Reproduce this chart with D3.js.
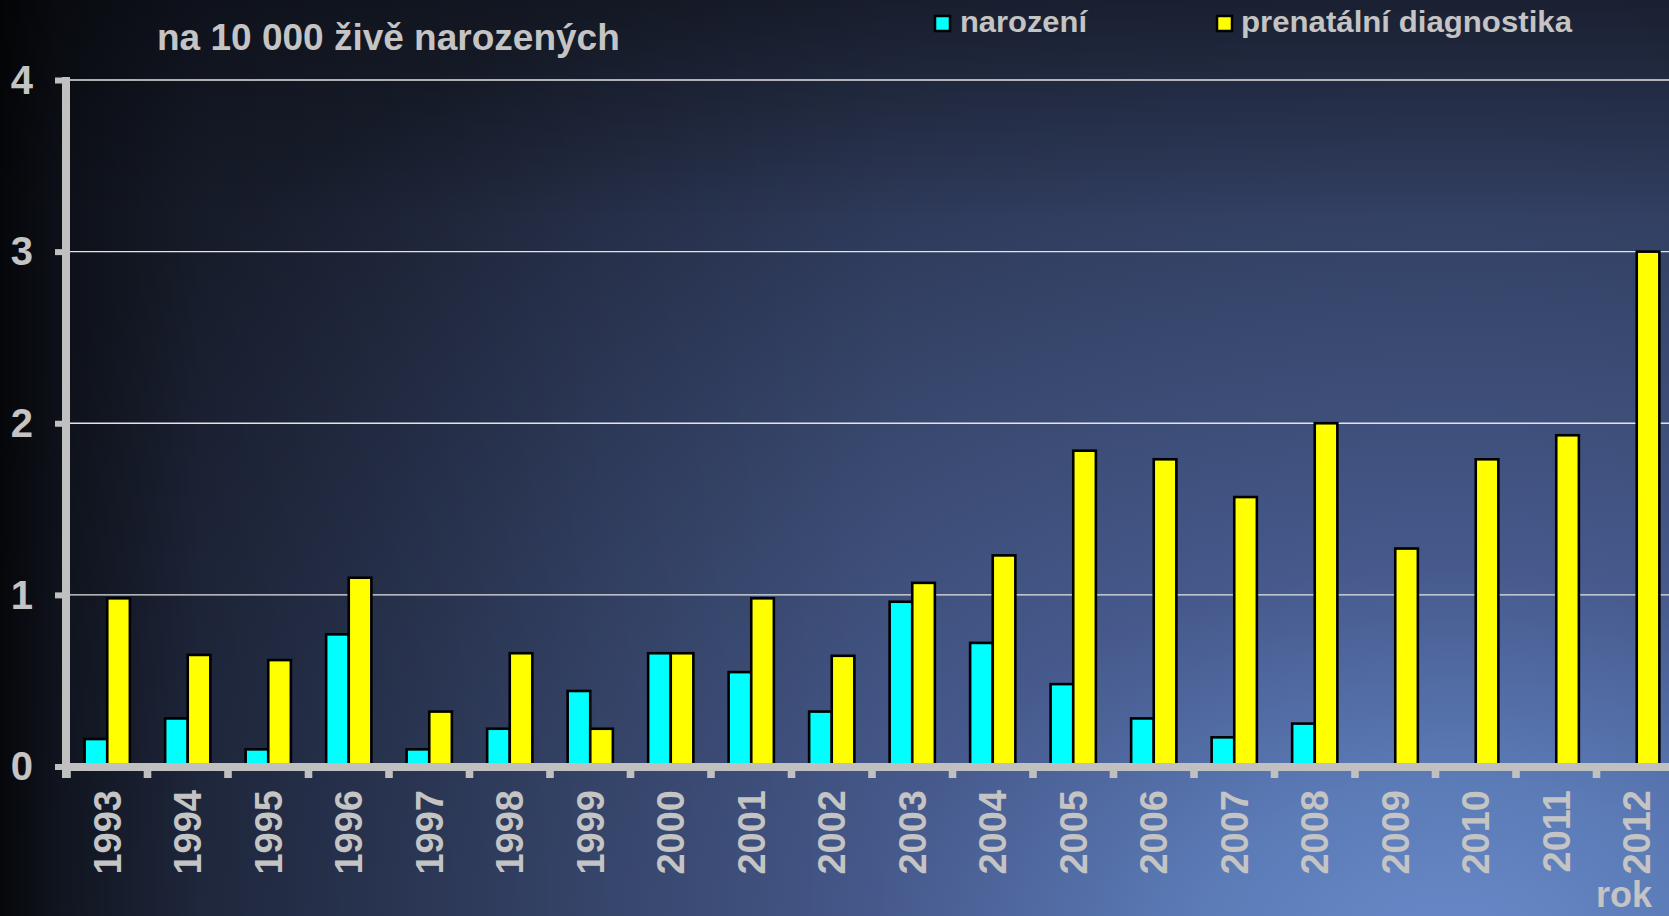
<!DOCTYPE html>
<html>
<head>
<meta charset="utf-8">
<script src="https://cdn.jsdelivr.net/npm/d3@7"></script>
<style>
  html, body { margin: 0; padding: 0; background: #0a0d16; overflow: hidden; }
  svg { display: block; font-family: "Liberation Sans", Arial, sans-serif; }
</style>
</head>
<body>
<svg id="chart" width="1669" height="916"></svg>
<script>
// ---- data ----
const years = ["1993","1994","1995","1996","1997","1998","1999","2000","2001","2002",
               "2003","2004","2005","2006","2007","2008","2009","2010","2011","2012"];
const narozeni = [0.16,0.28,0.10,0.77,0.10,0.22,0.44,0.66,0.55,0.32,
                  0.96,0.72,0.48,0.28,0.17,0.25,null,null,null,null];
const prenatal = [0.98,0.65,0.62,1.10,0.32,0.66,0.22,0.66,0.98,0.645,
                  1.07,1.23,1.84,1.79,1.57,2.00,1.27,1.79,1.93,3.00];
const yTicks = [0,1,2,3,4];
const seriesKeys = ["narozeni","prenatal"];
const seriesNames = ["narození","prenatální diagnostika"];
const seriesColors = ["#00ffff","#ffff00"];
const titleText = "na 10 000 živě narozených";
const xAxisTitle = "rok";

// ---- setup ----
const W = 1669, H = 916;
const svg = d3.select("#chart");
const defs = svg.append("defs");

const rg = defs.append("radialGradient").attr("id","bgR")
  .attr("gradientUnits","userSpaceOnUse")
  .attr("cx",1450).attr("cy",950).attr("r",1100)
  .attr("gradientTransform","translate(1450,950) scale(1.5,1) translate(-1450,-950)");
[[0,"#6888c8"],[0.15,"#5c7cb8"],[0.35,"#46598c"],[0.55,"#3a4a72"],[0.75,"#2e3a5a"],
 [0.9,"#262f48"],[1,"#20283c"]].forEach(([o,c]) =>
  rg.append("stop").attr("offset",o).attr("stop-color",c));

const lg = defs.append("linearGradient").attr("id","bgL")
  .attr("gradientUnits","userSpaceOnUse").attr("x1",0).attr("y1",0).attr("x2",900).attr("y2",0);
[[0,0.85],[0.067,0.6],[0.222,0.32],[0.667,0.1],[1,0]].forEach(([o,a]) =>
  lg.append("stop").attr("offset",o).attr("stop-color","#000").attr("stop-opacity",a));

const tg = defs.append("linearGradient").attr("id","bgT")
  .attr("gradientUnits","userSpaceOnUse").attr("x1",0).attr("y1",0).attr("x2",0).attr("y2",220);
[[0,0.35],[1,0]].forEach(([o,a]) =>
  tg.append("stop").attr("offset",o).attr("stop-color","#000").attr("stop-opacity",a));

svg.append("rect").attr("width",W).attr("height",H).attr("fill","url(#bgR)");
svg.append("rect").attr("width",W).attr("height",H).attr("fill","url(#bgL)");
svg.append("rect").attr("width",W).attr("height",H).attr("fill","url(#bgT)");

// scales
const x0 = d3.scaleBand().domain(years).range([67, 67 + 80.5*years.length]).padding(0);
const x1 = d3.scaleBand().domain(seriesKeys).range([0, x0.bandwidth()])
  .paddingInner(0).paddingOuter(0.78);
const y = d3.scaleLinear().domain([0,4]).range([766.5, 80]);

// gridlines
svg.append("g").selectAll("line").data(yTicks.filter(d => d > 0)).join("line")
  .attr("x1", 70).attr("x2", W)
  .attr("y1", d => y(d)).attr("y2", d => y(d))
  .attr("stroke", "#e4e4e4").attr("stroke-width", 1.3);

// bars
const rows = years.map((yr,i) => ({year: yr, narozeni: narozeni[i], prenatal: prenatal[i]}));
const groups = svg.append("g").selectAll("g").data(rows).join("g")
  .attr("transform", d => `translate(${x0(d.year)},0)`);
groups.selectAll("rect")
  .data(d => seriesKeys.map((k,j) => ({key:k, value:d[k], color:seriesColors[j]})).filter(e => e.value != null))
  .join("rect")
  .attr("x", d => x1(d.key))
  .attr("width", x1.bandwidth())
  .attr("y", d => y(d.value))
  .attr("height", d => y(0) - y(d.value) + 2)
  .attr("fill", d => d.color)
  .attr("stroke", "#000").attr("stroke-width", 2.6);

// axes
const axisColor = "#c0c0c0";
const labelColor = "#c4c4c4";

// x axis line + boundary ticks
const xAxisY = 767;
svg.append("line").attr("x1", 62).attr("x2", W).attr("y1", xAxisY).attr("y2", xAxisY)
  .attr("stroke", axisColor).attr("stroke-width", 8);
const boundaries = years.map(d => x0(d));
svg.append("g").selectAll("rect").data(boundaries).join("rect")
  .attr("x", d => d - 3.8).attr("width", 7.6)
  .attr("y", xAxisY).attr("height", 11)
  .attr("fill", axisColor);

// x labels via axis
const xAxis = svg.append("g").attr("transform", `translate(0,${xAxisY + 20})`)
  .call(d3.axisBottom(x0).tickSize(0).tickPadding(0));
xAxis.select(".domain").remove();
xAxis.selectAll("text")
  .attr("transform", "rotate(-90)")
  .attr("x", 0).attr("y", 0).attr("dx", "-3").attr("dy", "0.35em")
  .style("text-anchor", "end")
  .attr("fill", labelColor)
  .style("font-size", "38px").style("font-weight", "bold")
  .style("font-family", "'Liberation Sans', Arial, sans-serif");

// y axis
const yAxisX = 66;
svg.append("line").attr("x1", yAxisX).attr("x2", yAxisX).attr("y1", 77).attr("y2", 778)
  .attr("stroke", axisColor).attr("stroke-width", 8);
const yAxis = svg.append("g").attr("transform", `translate(${yAxisX - 4},0)`)
  .call(d3.axisLeft(y).tickValues(yTicks).tickSize(7).tickSizeOuter(0).tickPadding(22).tickFormat(d3.format("d")));
yAxis.select(".domain").remove();
yAxis.selectAll(".tick line").attr("stroke", axisColor).attr("stroke-width", 6);
yAxis.selectAll("text")
  .attr("fill", labelColor)
  .attr("dy", "0.33em")
  .style("font-size", "40px").style("font-weight", "bold")
  .style("font-family", "'Liberation Sans', Arial, sans-serif");

// title
svg.append("text").attr("x", 157).attr("y", 50)
  .attr("fill", labelColor)
  .style("font-size", "37px").style("font-weight", "bold")
  .text(titleText);

// legend
const legendPos = [{sx: 934, tx: 960, tw: 127}, {sx: 1216, tx: 1241, tw: 331}];
const legend = svg.append("g").selectAll("g").data(seriesNames).join("g");
legend.append("rect")
  .attr("x", (d,i) => legendPos[i].sx + 1).attr("y", 16)
  .attr("width", 15).attr("height", 15)
  .attr("fill", (d,i) => seriesColors[i])
  .attr("stroke", "#000").attr("stroke-width", 2.5);
legend.append("text")
  .attr("x", (d,i) => legendPos[i].tx).attr("y", 32)
  .attr("textLength", (d,i) => legendPos[i].tw).attr("lengthAdjust", "spacingAndGlyphs")
  .attr("fill", labelColor)
  .style("font-size", "29px").style("font-weight", "bold")
  .text(d => d);

// x axis title
svg.append("text").attr("x", 1596).attr("y", 907)
  .attr("fill", labelColor)
  .style("font-size", "36px").style("font-weight", "bold")
  .text(xAxisTitle);
</script>
</body>
</html>
